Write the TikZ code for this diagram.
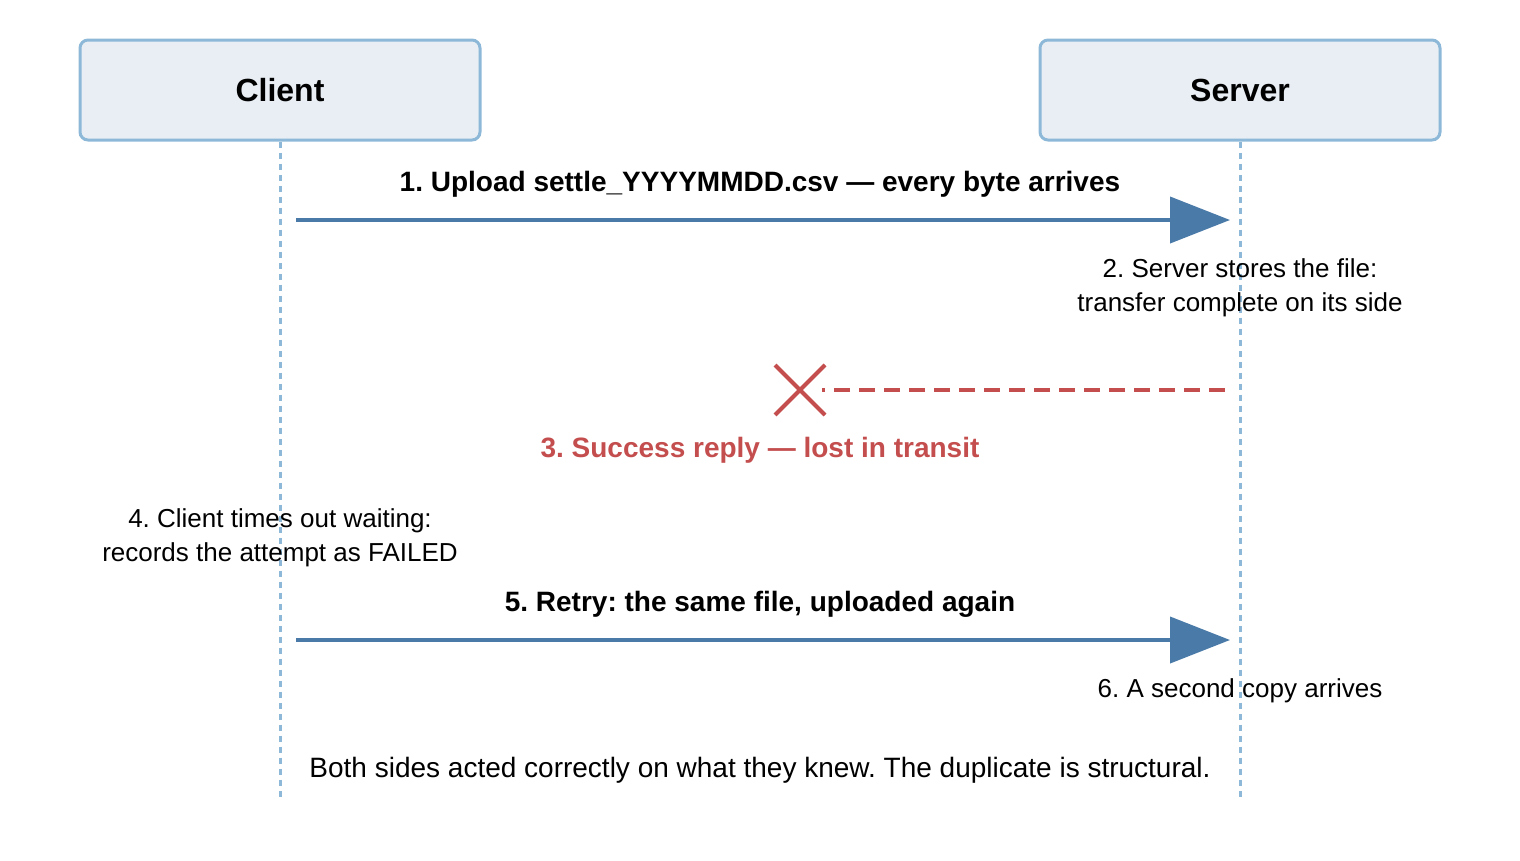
\documentclass[tikz,border=0pt]{standalone}
\usepackage{fontspec}
\setmainfont{Liberation Sans}
\usetikzlibrary{arrows.meta,calc}
\definecolor{boxfill}{HTML}{E8EEF4}
\definecolor{boxline}{HTML}{8DB8D8}
\definecolor{arr}{HTML}{4A7AA8}
\definecolor{red3}{HTML}{C44E4E}
\begin{document}
\frenchspacing
\begin{tikzpicture}[x=1pt,y=-1pt,
  actor/.style={draw=boxline,line width=3pt,fill=boxfill,rounded corners=8pt,minimum width=400pt,minimum height=100pt,font=\fontsize{32}{36}\selectfont\bfseries},
  life/.style={boxline,line width=3pt,dash pattern=on 6pt off 5pt},
  msg/.style={arr,line width=4pt,-{Triangle[length=60pt,width=46pt]}},
  lbl/.style={font=\fontsize{28}{32}\selectfont\bfseries},
  note/.style={font=\fontsize{26}{34}\selectfont,align=center}]
\useasboundingbox (0,0) rectangle (1520,860);
\node[actor] (client) at (280,90) {Client};
\node[actor] (server) at (1240,90) {Server};
\coordinate (cb) at (280,800);
\coordinate (sb) at (1240,800);
\draw[life] (client.south) -- (cb);
\draw[life] (server.south) -- (sb);
\coordinate (a1s) at (296,220); \coordinate (a1e) at (1230,220);
\draw[msg] (a1s) -- (a1e);
\node[lbl] (l1) at (760,184) {1. Upload settle\_YYYYMMDD.csv — every byte arrives};
\node[note] (n2) at (1240,288) {2. Server stores the file:\\transfer complete on its side};
\coordinate (r1) at (1225,390); \coordinate (x) at (800,390);
\draw[red3,line width=4pt,dash pattern=on 16pt off 9pt] (r1) -- (822,390);
\draw[red3,line width=4pt] ($(x)+(-25,-25)$) -- ($(x)+(25,25)$) ($(x)+(-25,25)$) -- ($(x)+(25,-25)$);
\node[lbl,text=red3] (l3) at (760,450) {3. Success reply — lost in transit};
\node[note] (n4) at (280,538) {4. Client times out waiting:\\records the attempt as FAILED};
\coordinate (a5s) at (296,640); \coordinate (a5e) at (1230,640);
\draw[msg] (a5s) -- (a5e);
\node[lbl] (l5) at (760,604) {5. Retry: the same file, uploaded again};
\node[note] (n6) at (1240,691) {6. A second copy arrives};
\node[note,font=\fontsize{28}{34}\selectfont] (n7) at (760,770) {Both sides acted correctly on what they knew. The duplicate is structural.};
\end{tikzpicture}
\end{document}
